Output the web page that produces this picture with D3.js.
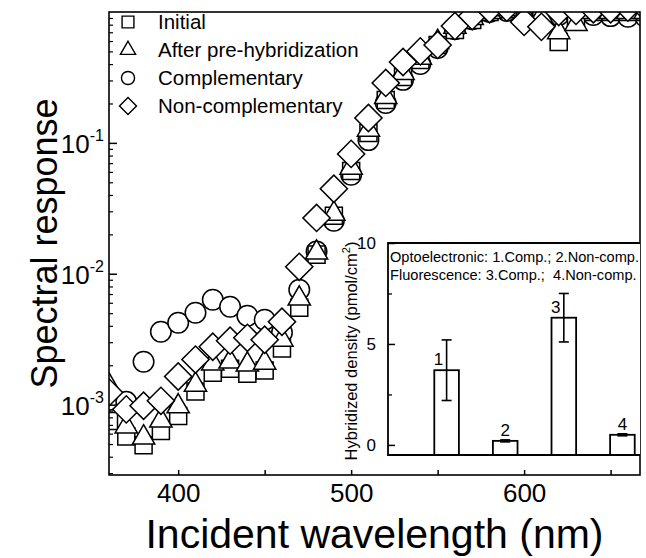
<!DOCTYPE html>
<html>
<head>
<meta charset="utf-8">
<script src="https://cdn.jsdelivr.net/npm/d3@7"></script>
<style>
body { margin: 0; background: #fff; }
svg { display: block; font-family: Arial, "Liberation Sans", sans-serif; }
</style>
</head>
<body>
<svg id="chart" width="646" height="558"></svg>
<script>
// main plot data
var WAVELENGTHS = [360,370,380,390,400,410,420,430,440,450,460,470,480,490,500,510,520,530,540,550,560,570,580,590,600,610,620,630,640,650,660,670];
var INITIAL = [7.5e-4,5.7e-4,4.9e-4,6.3e-4,8.2e-4,1.26e-3,1.75e-3,1.88e-3,1.72e-3,1.82e-3,2.68e-3,5.5e-3,0.0140,0.0277,0.061,0.119,0.213,0.319,0.43,0.56,0.73,0.87,1.0,1.05,1.0,0.9,0.59,0.85,1.0,1.0,1.0,1.0];
var PRE_HYBRIDIZATION = [1.40e-3,6.8e-4,5.6e-4,7.55e-4,9.7e-4,1.42e-3,2.06e-3,2.13e-3,2.02e-3,2.09e-3,3.13e-3,6.45e-3,0.0145,0.0287,0.0645,0.126,0.224,0.342,0.446,0.59,0.77,0.90,1.0,1.05,0.97,0.93,0.70,0.81,1.0,1.0,1.0,1.0];
var COMPLEMENTARY = [1.09e-3,1.05e-3,2.13e-3,3.61e-3,4.23e-3,5.04e-3,6.33e-3,5.6e-3,4.78e-3,4.45e-3,3.55e-3,7.55e-3,0.0148,0.0254,0.057,0.105,0.202,0.303,0.401,0.531,0.74,0.88,1.0,1.02,1.0,0.97,0.95,0.95,0.95,0.93,0.92,0.92];
var NON_COMPLEMENTARY = [1.24e-3,9.2e-4,9.8e-4,1.07e-3,1.64e-3,2.21e-3,2.77e-3,3.08e-3,3.24e-3,3.13e-3,4.3e-3,0.0113,0.0267,0.0446,0.0824,0.155,0.287,0.415,0.50,0.56,0.78,0.93,1.05,1.08,0.84,0.77,1.0,1.02,1.05,1.05,1.08,1.08];
var SERIES_NAMES = ["Initial", "After pre-hybridization", "Complementary", "Non-complementary"];

var X_TICKS = [400, 450, 500, 550, 600, 650];
var X_LABELS = [400, 500, 600];
var Y_MAJOR = [1e-3, 1e-2, 1e-1];
var Y_EXPONENTS = ["-3", "-2", "-1"];

// inset data
var BAR_LABELS = ["1", "2", "3", "4"];
var BAR_VALUES = [3.7, 0.2, 6.3, 0.5];
var BAR_ERR_LOW = [2.2, 0.15, 5.1, 0.45];
var BAR_ERR_HIGH = [5.2, 0.25, 7.5, 0.55];
var INSET_Y_TICKS = [0, 5, 10];
var INSET_Y_MINOR = [2.5, 7.5];
var INSET_NOTES = ["Optoelectronic: 1.Comp.; 2.Non-comp.", "Fluorescence: 3.Comp.;  4.Non-comp."];

const svg = d3.select("#chart");
const W = 646, H = 558;
const margin = { top: 12, right: 6, bottom: 83, left: 109 };
const FONT = "Arial, 'Liberation Sans', sans-serif";

const x = d3.scaleLinear().domain([360, 667]).range([margin.left, W - margin.right]);
const y = d3.scaleLog().domain([2.9e-4, 1]).range([H - margin.bottom, margin.top]);

// marker shapes, sizes are areas
const shapes = [
    { type: d3.symbolSquare, size: 290, rotate: 0, legendSize: 140 },
    { type: d3.symbolTriangle, size: 215, rotate: 0, legendSize: 100 },
    { type: d3.symbolCircle, size: 330, rotate: 0, legendSize: 135 },
    { type: d3.symbolSquare, size: 370, rotate: 45, legendSize: 145 }
];
const seriesData = [INITIAL, PRE_HYBRIDIZATION, COMPLEMENTARY, NON_COMPLEMENTARY];

svg.append("defs").append("clipPath").attr("id", "plot-clip")
    .append("rect")
    .attr("x", margin.left).attr("y", margin.top)
    .attr("width", W - margin.right - margin.left)
    .attr("height", H - margin.bottom - margin.top);

// draw order: circles, squares, triangles, diamonds
const drawOrder = [2, 0, 1, 3];
const plot = svg.append("g").attr("clip-path", "url(#plot-clip)");
drawOrder.forEach((s) => {
    plot.append("g")
        .selectAll("path")
        .data(WAVELENGTHS.map((w, i) => ({ w: w, v: seriesData[s][i] })))
        .join("path")
        .attr("transform", (d) => `translate(${x(d.w)},${y(d.v)}) rotate(${shapes[s].rotate})`)
        .attr("d", d3.symbol().type(shapes[s].type).size(shapes[s].size))
        .attr("fill", "white")
        .attr("stroke", "black")
        .attr("stroke-width", 1.5);
});

// x axis, ticks pointing inward
const xAxis = (g) =>
    g.attr("transform", `translate(0,${H - margin.bottom})`)
        .call(d3.axisBottom(x).tickValues(X_TICKS).tickSize(-5).tickSizeOuter(0)
            .tickFormat((d) => X_LABELS.includes(d) ? d : ""))
        .call((g) => g.select(".domain").remove())
        .call((g) => g.selectAll(".tick line").attr("stroke-width", 1.5))
        .call((g) => g.selectAll(".tick text").attr("y", 9).attr("font-size", 26).attr("font-family", FONT));
svg.append("g").call(xAxis);

// y axis minor + major ticks
const minorTicks = [];
[-4, -3, -2, -1].forEach((e) => {
    for (let k = 2; k <= 9; k++) {
        const v = k * Math.pow(10, e);
        if (v >= y.domain()[0] && v <= y.domain()[1]) minorTicks.push(v);
    }
});
svg.append("g")
    .attr("transform", `translate(${margin.left},0)`)
    .call(d3.axisLeft(y).tickValues(minorTicks).tickSize(-4).tickSizeOuter(0).tickFormat(""))
    .call((g) => g.select(".domain").remove())
    .call((g) => g.selectAll(".tick line").attr("stroke-width", 1.2));
svg.append("g")
    .attr("transform", `translate(${margin.left},0)`)
    .call(d3.axisLeft(y).tickValues(Y_MAJOR).tickSize(-8).tickSizeOuter(0).tickFormat(""))
    .call((g) => g.select(".domain").remove())
    .call((g) => g.selectAll(".tick line").attr("stroke-width", 1.5));

const yLabels = svg.append("g")
    .selectAll("text")
    .data(Y_MAJOR)
    .join("text")
    .attr("x", margin.left - 5)
    .attr("y", (d) => y(d) + 10)
    .attr("text-anchor", "end")
    .attr("font-size", 26);
yLabels.append("tspan").text("10");
yLabels.append("tspan").attr("dy", -12).attr("font-size", 16).text((d, i) => Y_EXPONENTS[i]);

// frame
svg.append("rect")
    .attr("x", margin.left).attr("y", margin.top)
    .attr("width", W - margin.right - margin.left)
    .attr("height", H - margin.bottom - margin.top)
    .attr("fill", "none").attr("stroke", "black").attr("stroke-width", 1.6);

// axis titles
svg.append("text")
    .attr("x", (margin.left + W - margin.right) / 2)
    .attr("y", 548)
    .attr("text-anchor", "middle")
    .attr("font-size", 41)
    .text("Incident wavelength (nm)");
svg.append("text")
    .attr("transform", `translate(57,${(margin.top + H - margin.bottom) / 2}) rotate(-90)`)
    .attr("text-anchor", "middle")
    .attr("font-size", 36)
    .text("Spectral response");

// legend
const legend = svg.append("g")
    .selectAll("g")
    .data(SERIES_NAMES)
    .join("g")
    .attr("transform", (d, i) => `translate(128,${22 + i * 28})`);
legend.append("path")
    .attr("transform", (d, i) => `rotate(${shapes[i].rotate})`)
    .attr("d", (d, i) => d3.symbol().type(shapes[i].type).size(shapes[i].legendSize)())
    .attr("fill", "white")
    .attr("stroke", "black")
    .attr("stroke-width", 1.4);
legend.append("text")
    .attr("x", 30)
    .attr("dy", "0.36em")
    .attr("font-size", 20.5)
    .text((d) => d);

// inset bar chart
const inset = { left: 388, right: 640, top: 243, bottom: 455 };
const ix = d3.scaleLinear().domain([0, 4.3]).range([inset.left, inset.right]);
const iy = d3.scaleLinear().domain([-0.5, 10]).range([inset.bottom, inset.top]);
const barW = ix(0.42) - ix(0);

const insetG = svg.append("g");
insetG.append("rect")
    .attr("x", inset.left).attr("y", inset.top)
    .attr("width", inset.right - inset.left).attr("height", inset.bottom - inset.top)
    .attr("fill", "white");

insetG.append("g")
    .attr("stroke", "black")
    .attr("stroke-width", 1.8)
    .attr("fill", "white")
    .selectAll("rect")
    .data(BAR_VALUES)
    .join("rect")
    .attr("x", (d, i) => ix(i + 1) - barW / 2)
    .attr("y", (d) => iy(d))
    .attr("width", barW)
    .attr("height", (d) => iy(-0.5) - iy(d));

// error bars
const errG = insetG.append("g").attr("stroke", "black").attr("stroke-width", 1.6);
errG.selectAll("line.v")
    .data(BAR_VALUES)
    .join("line")
    .attr("class", "v")
    .attr("x1", (d, i) => ix(i + 1)).attr("x2", (d, i) => ix(i + 1))
    .attr("y1", (d, i) => iy(BAR_ERR_LOW[i])).attr("y2", (d, i) => iy(BAR_ERR_HIGH[i]));
["low", "high"].forEach((k) => {
    const arr = k === "low" ? BAR_ERR_LOW : BAR_ERR_HIGH;
    errG.selectAll("line.cap-" + k)
        .data(arr)
        .join("line")
        .attr("class", "cap-" + k)
        .attr("x1", (d, i) => ix(i + 1) - 5).attr("x2", (d, i) => ix(i + 1) + 5)
        .attr("y1", (d) => iy(d)).attr("y2", (d) => iy(d));
});

// bar numbers
insetG.append("g")
    .selectAll("text")
    .data(BAR_LABELS)
    .join("text")
    .attr("x", (d, i) => ix(i + 1) + (BAR_ERR_HIGH[i] - BAR_VALUES[i] > 0.3 ? -8 : 0))
    .attr("y", (d, i) => iy(BAR_VALUES[i]) - 5)
    .attr("text-anchor", "middle")
    .attr("font-size", 17)
    .text((d) => d);

// inset y axis
insetG.append("g")
    .attr("transform", `translate(${inset.left},0)`)
    .call(d3.axisLeft(iy).tickValues(INSET_Y_MINOR).tickSize(-4).tickFormat(""))
    .call((g) => g.select(".domain").remove())
    .call((g) => g.selectAll(".tick line").attr("stroke-width", 1.3));
insetG.append("g")
    .attr("transform", `translate(${inset.left},0)`)
    .call(d3.axisLeft(iy).tickValues(INSET_Y_TICKS).tickSize(-7).tickPadding(12).tickFormat(d3.format("d")))
    .call((g) => g.select(".domain").remove())
    .call((g) => g.selectAll(".tick line").attr("stroke-width", 1.5))
    .call((g) => g.selectAll(".tick text").attr("font-size", 17).attr("font-family", FONT));

// inset frame lines
insetG.append("path")
    .attr("d", `M${inset.right},${inset.top}H${inset.left}V${inset.bottom}H${inset.right}`)
    .attr("fill", "none").attr("stroke", "black").attr("stroke-width", 1.8);

// inset notes
svg.select("defs").append("clipPath").attr("id", "inset-clip")
    .append("rect")
    .attr("x", inset.left).attr("y", inset.top)
    .attr("width", inset.right - inset.left).attr("height", inset.bottom - inset.top);
insetG.append("g")
    .attr("clip-path", "url(#inset-clip)")
    .selectAll("text")
    .data(INSET_NOTES)
    .join("text")
    .attr("x", inset.left + 2)
    .attr("y", (d, i) => inset.top + 19 + i * 18)
    .attr("font-size", 14.6)
    .style("white-space", "pre")
    .text((d) => d);

// inset y title
svg.append("text")
    .attr("transform", `translate(357,${(inset.top + inset.bottom) / 2 + 2}) rotate(-90)`)
    .attr("text-anchor", "middle")
    .attr("font-size", 16.5)
    .html("Hybridized density (pmol/cm<tspan dy='-7' font-size='11'>2</tspan><tspan dy='7'>)</tspan>");
</script>
</body>
</html>
